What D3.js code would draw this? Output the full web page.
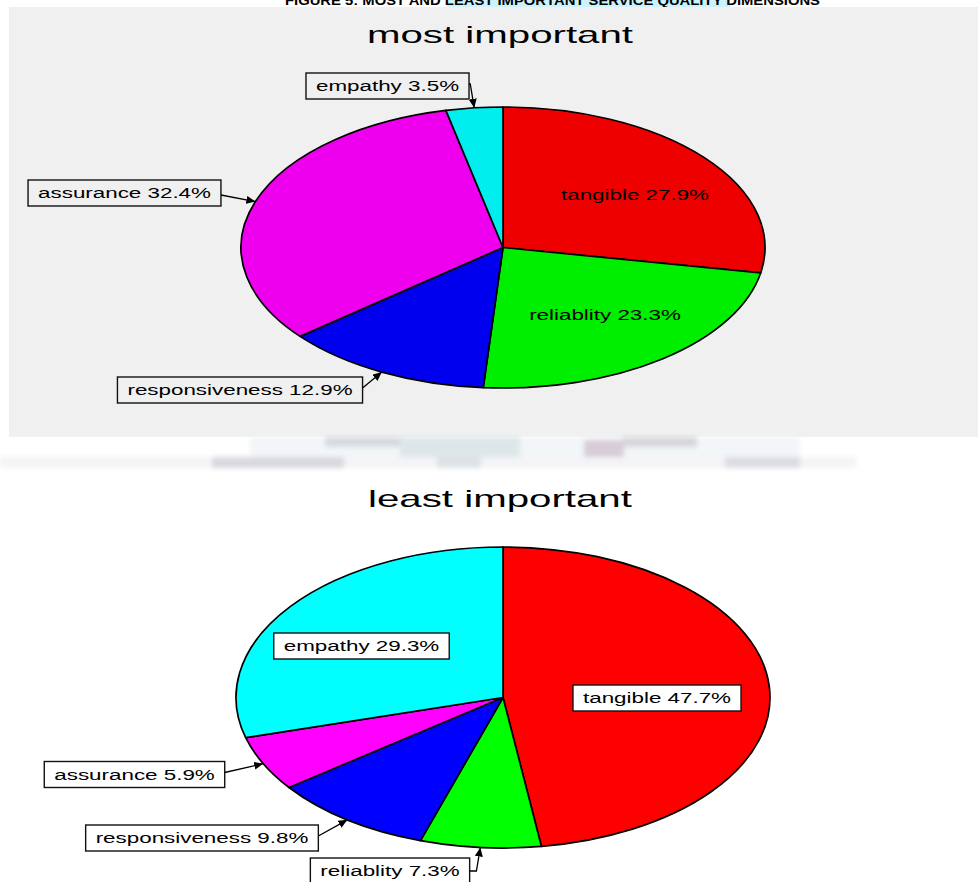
<!DOCTYPE html>
<html>
<head>
<meta charset="utf-8">
<script src="https://cdn.jsdelivr.net/npm/d3@7"></script>
<style>
  body { margin: 0; background: #fff; }
  svg { display: block; font-family: "Liberation Sans", Arial, sans-serif; }
</style>
</head>
<body>
<svg id="chart" width="978" height="882"></svg>
<script>
// data
var categories = ["tangible", "reliablity", "responsiveness", "assurance", "empathy"];
var mostValues = [27.9, 23.3, 12.9, 32.4, 3.5];
var leastValues = [47.7, 7.3, 9.8, 5.9, 29.3];
var mostColors = ["#ee0000", "#00ee00", "#0000ee", "#ee00ee", "#00eeee"];
var leastColors = ["#ff0000", "#00ff00", "#0000ff", "#ff00ff", "#00ffff"];
var figureTitle = "FIGURE 5: MOST AND LEAST IMPORTANT SERVICE QUALITY DIMENSIONS";

// label layout (box centres), kept apart from the values
var mostLayout = [
  {mode: "inside", box: false, x: 635, y: 195},
  {mode: "inside", box: false, x: 605, y: 315},
  {mode: "outside", x: 240, y: 390},
  {mode: "outside", x: 124.5, y: 193},
  {mode: "outside", x: 387.5, y: 86, elbow: true}
];
var leastLayout = [
  {mode: "inside", box: true, x: 657, y: 698},
  {mode: "outside", x: 390, y: 871, elbow: true},
  {mode: "outside", x: 202, y: 838},
  {mode: "outside", x: 134.5, y: 774.5},
  {mode: "inside", box: true, x: 361.5, y: 646}
];

var svg = d3.select("#chart");
var labelStretch = 1.6;
var titleStretch = 1.75;

var defs = svg.append("defs");
defs.append("marker")
  .attr("id", "arrow")
  .attr("markerUnits", "userSpaceOnUse")
  .attr("markerWidth", 10)
  .attr("markerHeight", 8)
  .attr("refX", 9)
  .attr("refY", 4)
  .attr("orient", "auto")
  .append("path")
  .attr("d", "M0,0 L9,4 L0,8 Z")
  .attr("fill", "#000");
defs.append("filter").attr("id", "smudge")
  .append("feGaussianBlur").attr("stdDeviation", 2.5);

// cut-off figure caption at the very top
svg.append("rect").attr("x", 447).attr("y", 0).attr("width", 283).attr("height", 7).attr("fill", "#cbf3fb");
svg.append("text")
  .attr("x", 285).attr("y", 5)
  .attr("font-size", 13).attr("font-weight", "bold")
  .attr("textLength", 535).attr("lengthAdjust", "spacingAndGlyphs")
  .text(figureTitle);

// grey panel of the upper chart
svg.append("rect").attr("x", 9).attr("y", 7).attr("width", 969).attr("height", 430).attr("fill", "#f0f0f0");

// scan smudge between the charts
var smudge = svg.append("g").attr("filter", "url(#smudge)");
[
  [250, 437, 550, 20, "#f2f6f8"],
  [325, 437, 75, 10, "#d6d9e0"],
  [400, 437, 120, 20, "#dde6e8"],
  [584, 440, 40, 25, "#d8ccd8"],
  [622, 437, 75, 10, "#d6d6da"],
  [0, 457, 856, 11, "#f4f4f7"],
  [212, 457, 132, 11, "#d8d8de"],
  [437, 457, 44, 11, "#dde2e4"],
  [725, 457, 75, 11, "#dcdce2"]
].forEach(function(r) {
  smudge.append("rect").attr("x", r[0]).attr("y", r[1]).attr("width", r[2]).attr("height", r[3]).attr("fill", r[4]);
});

function drawTitle(txt, x, y) {
  svg.append("text")
    .attr("transform", "translate(" + x + "," + y + ") scale(" + titleStretch + ",1)")
    .attr("text-anchor", "middle")
    .attr("font-size", 23)
    .attr("fill", "#000")
    .text(txt);
}

function drawPie(values, colors, layout, cx, cy, rx, ry, boxFill) {
  var R = 100;
  var pie = d3.pie().sort(null).value(function(d) { return d; });
  var arc = d3.arc().innerRadius(0).outerRadius(R);
  var slices = pie(values);

  svg.append("g")
    .attr("transform", "translate(" + cx + "," + cy + ") scale(" + (rx / R) + "," + (ry / R) + ")")
    .selectAll("path")
    .data(slices)
    .join("path")
    .attr("d", arc)
    .attr("fill", function(d, i) { return colors[i]; })
    .attr("stroke", "#000")
    .attr("stroke-width", 1.7)
    .attr("stroke-linejoin", "round")
    .attr("vector-effect", "non-scaling-stroke");

  slices.forEach(function(d, i) {
    var L = layout[i];
    var label = categories[i] + " " + values[i].toFixed(1) + "%";
    var g = svg.append("g");
    var box = g.append("rect");
    var t = g.append("text")
      .attr("transform", "translate(" + L.x + "," + (L.y + 5) + ") scale(" + labelStretch + ",1)")
      .attr("text-anchor", "middle")
      .attr("font-size", 14)
      .attr("fill", "#000")
      .text(label);
    var w = t.node().getComputedTextLength() * labelStretch + 20;
    var h = 26;
    if (L.mode === "outside" || L.box) {
      box.attr("x", L.x - w / 2).attr("y", L.y - h / 2)
        .attr("width", w).attr("height", h)
        .attr("fill", boxFill)
        .attr("stroke", "#111")
        .attr("stroke-width", 1.4);
    } else {
      box.remove();
    }
    if (L.mode === "outside") {
      var a = (d.startAngle + d.endAngle) / 2;
      var tx = cx + rx * Math.sin(a);
      var ty = cy - ry * Math.cos(a);
      var sx = L.x + w / 2;
      var sy = L.y + (ty > L.y ? 2 : -2);
      if (L.elbow) {
        sy = L.y - 2;
        if (ty < L.y) sy = L.y;
      }
      var pts = [[sx, sy]];
      if (L.elbow) pts.push([tx - 4, sy]);
      pts.push([tx, ty]);
      svg.append("path")
        .attr("d", d3.line()(pts))
        .attr("fill", "none")
        .attr("stroke", "#000")
        .attr("stroke-width", 1.3)
        .attr("marker-end", "url(#arrow)");
    }
  });
}

drawTitle("most important", 500, 43);
drawPie(mostValues, mostColors, mostLayout, 503, 247.5, 262, 140.5, "#f0f0f0");

drawTitle("least important", 500, 507);
drawPie(leastValues, leastColors, leastLayout, 503, 697.5, 267, 150.5, "#ffffff");
</script>
</body>
</html>
